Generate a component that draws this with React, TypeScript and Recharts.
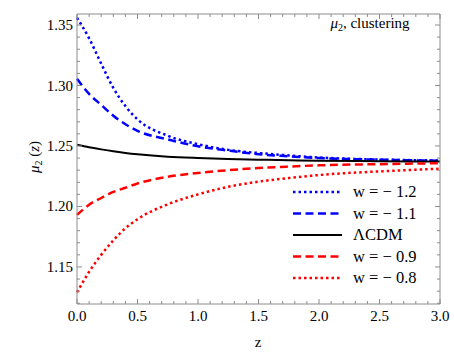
import { LineChart, Line, XAxis, YAxis } from "recharts";

const zValues = [0, 0.1, 0.2, 0.3, 0.4, 0.5, 0.75, 1.0, 1.25, 1.5, 1.75, 2.0, 2.5, 3.0];
const wm12 = [1.356, 1.339, 1.318, 1.298, 1.283, 1.272, 1.2585, 1.2515, 1.2468, 1.2442, 1.2422, 1.2405, 1.2388, 1.238];
const wm11 = [1.3055, 1.293, 1.284, 1.275, 1.268, 1.2625, 1.2555, 1.2498, 1.2462, 1.2432, 1.2415, 1.24, 1.2387, 1.2378];
const lcdm = [1.251, 1.249, 1.2472, 1.2456, 1.2443, 1.2432, 1.2412, 1.2401, 1.2393, 1.2387, 1.2382, 1.2378, 1.2374, 1.2372];
const wm09 = [1.193, 1.2015, 1.207, 1.212, 1.2155, 1.219, 1.2245, 1.2277, 1.23, 1.2318, 1.233, 1.234, 1.235, 1.2358];
const wm08 = [1.129, 1.146, 1.16, 1.172, 1.182, 1.1895, 1.2018, 1.21, 1.2163, 1.2205, 1.2235, 1.226, 1.229, 1.2312];

const xTicks = [0, 0.1, 0.2, 0.3, 0.4, 0.5, 0.6, 0.7, 0.8, 0.9, 1.0, 1.1, 1.2, 1.3, 1.4, 1.5, 1.6, 1.7, 1.8, 1.9, 2.0, 2.1, 2.2, 2.3, 2.4, 2.5, 2.6, 2.7, 2.8, 2.9, 3.0];
const xMajor = [0, 0.5, 1.0, 1.5, 2.0, 2.5, 3.0];
const yTicks = [1.12, 1.13, 1.14, 1.15, 1.16, 1.17, 1.18, 1.19, 1.2, 1.21, 1.22, 1.23, 1.24, 1.25, 1.26, 1.27, 1.28, 1.29, 1.3, 1.31, 1.32, 1.33, 1.34, 1.35];
const yMajor = [1.15, 1.2, 1.25, 1.3, 1.35];

const series = [
  { key: "wm12", label: "w = \u2212 1.2", color: "#0000ff", dash: "2.5 3", width: 2.5 },
  { key: "wm11", label: "w = \u2212 1.1", color: "#0000ff", dash: "8 4.5", width: 2.5 },
  { key: "lcdm", label: "\u039BCDM", color: "#000000", dash: undefined, width: 2 },
  { key: "wm09", label: "w = \u2212 0.9", color: "#ff0000", dash: "8 4.5", width: 2.5 },
  { key: "wm08", label: "w = \u2212 0.8", color: "#ff0000", dash: "2.5 3", width: 2.5 },
];

const data = zValues.map((z, i) => ({
  z,
  wm12: wm12[i],
  wm11: wm11[i],
  lcdm: lcdm[i],
  wm09: wm09[i],
  wm08: wm08[i],
}));

const FONT = "Liberation Serif, Times New Roman, serif";
const GRAY = "#8c8c8c";
const isMajor = (v: number, list: number[]) => list.some((m) => Math.abs(m - v) < 1e-6);

// plot box: left 77, right 440, top 14, bottom 304
function BottomTick(props: any) {
  const { x, payload } = props;
  const y = 304;
  const major = isMajor(payload.value, xMajor);
  return (
    <g>
      <line x1={x} y1={y} x2={x} y2={y - (major ? 5 : 3)} stroke={GRAY} />
      {major && (
        <text x={x} y={y + 17} textAnchor="middle" fontSize={15} fontFamily={FONT} fill="#000">
          {payload.value.toFixed(1)}
        </text>
      )}
    </g>
  );
}

function TopTick(props: any) {
  const { x, payload } = props;
  const y = 14;
  const major = isMajor(payload.value, xMajor);
  return <line x1={x} y1={y} x2={x} y2={y + (major ? 5 : 3)} stroke={GRAY} />;
}

function LeftTick(props: any) {
  const { y, payload } = props;
  const x = 77;
  const major = isMajor(payload.value, yMajor);
  return (
    <g>
      <line x1={x} y1={y} x2={x + (major ? 5 : 3)} y2={y} stroke={GRAY} />
      {major && (
        <text x={x - 4} y={y + 5} textAnchor="end" fontSize={15} fontFamily={FONT} fill="#000">
          {payload.value.toFixed(2)}
        </text>
      )}
    </g>
  );
}

function RightTick(props: any) {
  const { y, payload } = props;
  const x = 440;
  const major = isMajor(payload.value, yMajor);
  return <line x1={x} y1={y} x2={x - (major ? 5 : 3)} y2={y} stroke={GRAY} />;
}

export default function App() {
  return (
    <div style={{ position: "absolute", left: 0, top: 0, width: 454, height: 356, background: "#fff", fontFamily: FONT }}>
      <LineChart width={454} height={356} data={data} margin={{ top: 10, right: 10, bottom: 48, left: 73 }}>
        <XAxis
          xAxisId="main"
          dataKey="z"
          type="number"
          domain={[0, 3]}
          ticks={xTicks}
          interval={0}
          height={4}
          tickSize={1}
          tickMargin={0}
          tickLine={false}
          axisLine={{ stroke: GRAY }}
          tick={<BottomTick />}
        />
        <XAxis
          xAxisId="top"
          orientation="top"
          dataKey="z"
          type="number"
          domain={[0, 3]}
          ticks={xTicks}
          interval={0}
          height={4}
          tickSize={1}
          tickMargin={0}
          tickLine={false}
          axisLine={{ stroke: GRAY }}
          tick={<TopTick />}
        />
        <YAxis
          yAxisId="main"
          type="number"
          domain={[1.1194, 1.3591]}
          ticks={yTicks}
          interval={0}
          width={4}
          tickSize={1}
          tickMargin={0}
          tickLine={false}
          axisLine={{ stroke: GRAY }}
          tick={<LeftTick />}
          allowDataOverflow
        />
        <YAxis
          yAxisId="right"
          orientation="right"
          type="number"
          domain={[1.1194, 1.3591]}
          ticks={yTicks}
          interval={0}
          width={4}
          tickSize={1}
          tickMargin={0}
          tickLine={false}
          axisLine={{ stroke: GRAY }}
          tick={<RightTick />}
          allowDataOverflow
        />
        {series.map((s) => (
          <Line
            key={s.key}
            xAxisId="main"
            yAxisId="main"
            type="monotone"
            dataKey={s.key}
            stroke={s.color}
            strokeWidth={s.width}
            strokeDasharray={s.dash}
            dot={false}
            isAnimationActive={false}
          />
        ))}
      </LineChart>
      <svg width={454} height={356} style={{ position: "absolute", left: 0, top: 0, pointerEvents: "none" }}>
        <text x={370} y={28} textAnchor="middle" fontSize={15} fontFamily={FONT}>
          <tspan fontStyle="italic">{"\u03BC"}</tspan>
          <tspan fontSize={10} dy={3}>2</tspan>
          <tspan dy={-3}>, clustering</tspan>
        </text>
        <text x={258} y={347} textAnchor="middle" fontSize={15} fontFamily={FONT}>z</text>
        <text transform="translate(39,157) rotate(-90)" textAnchor="middle" fontSize={15} fontFamily={FONT}>
          <tspan fontStyle="italic">{"\u03BC"}</tspan>
          <tspan fontSize={10} dy={3}>2</tspan>
          <tspan dy={-3}> (</tspan>
          <tspan fontStyle="italic">z</tspan>
          <tspan>)</tspan>
        </text>
        {series.map((s, i) => {
          const y = 192 + i * 21.5;
          return (
            <g key={s.key}>
              <line x1={293} y1={y} x2={342} y2={y} stroke={s.color} strokeWidth={s.width} strokeDasharray={s.dash} />
              <text x={353} y={y + 5} fontSize={16.5} fontFamily={FONT}>{s.label}</text>
            </g>
          );
        })}
      </svg>
    </div>
  );
}
